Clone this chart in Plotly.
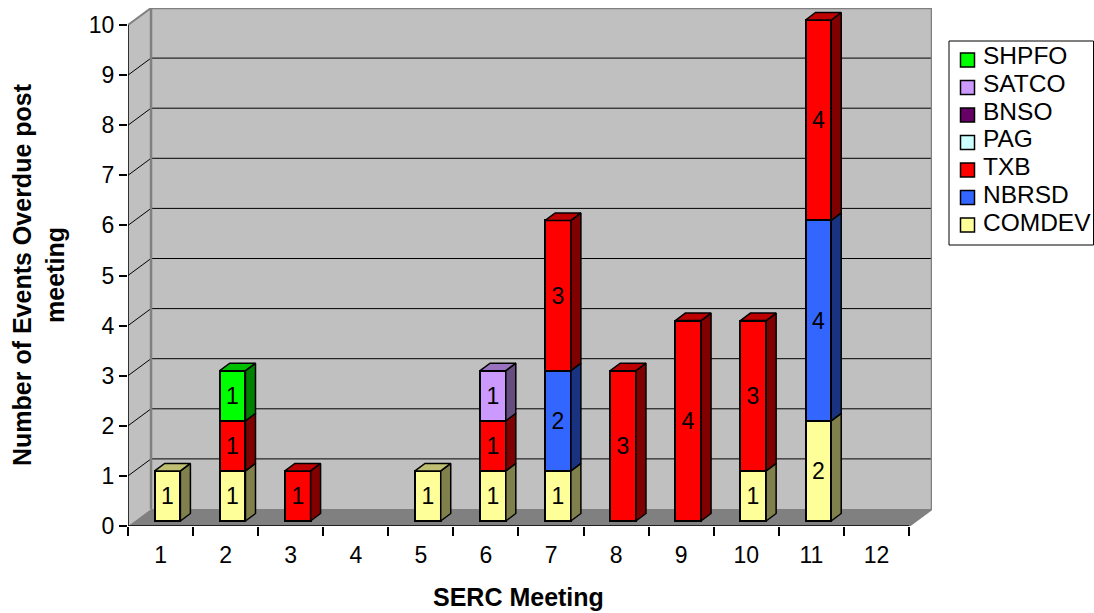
import plotly.graph_objects as go

categories = list(range(1, 13))
COMDEV = [1, 1, 0, 0, 1, 1, 1, 0, 0, 1, 2, 0]
NBRSD = [0, 0, 0, 0, 0, 0, 2, 0, 0, 0, 4, 0]
TXB = [0, 1, 1, 0, 0, 1, 3, 3, 4, 3, 4, 0]
PAG = [0] * 12
BNSO = [0] * 12
SATCO = [0, 0, 0, 0, 0, 1, 0, 0, 0, 0, 0, 0]
SHPFO = [0, 1, 0, 0, 0, 0, 0, 0, 0, 0, 0, 0]
series_names = ["COMDEV", "NBRSD", "TXB", "PAG", "BNSO", "SATCO", "SHPFO"]
series_values = [COMDEV, NBRSD, TXB, PAG, BNSO, SATCO, SHPFO]
front = ["#FFFF99", "#3366FF", "#FF0000", "#CCFFFF", "#660066", "#CC99FF", "#00FF00"]
side = ["#80804D", "#1A3380", "#800000", "#668080", "#330033", "#664D80", "#008000"]
top = ["#BFBF73", "#264DBF", "#BF0000", "#99BFBF", "#4D004D", "#9973BF", "#00BF00"]

WALL_DX = 23 / 65
WALL_DY = 17 / 50.1
SHIFT_X = 7 / 65
SHIFT_Y = 0.1
BAR_W = 0.395
BAR_DX = 10 / 65
BAR_DY = 0.15
X0, X1 = 0.5, 12.5
Y_MAX = 10

L, R, T, B = 128, 932, 8, 526
W, H = 1094, 613

fig = go.Figure()
shapes = []
annotations = []


def poly(pts, fill, line=None, width=0):
    path = "M" + "L".join(f"{x},{y}" for x, y in pts) + "Z"
    shapes.append(dict(type="path", path=path, xref="x", yref="y", fillcolor=fill, layer="below",
                       line=dict(color=line or fill, width=width)))


def seg(a, b, color="#000000", width=1):
    shapes.append(dict(type="line", x0=a[0], y0=a[1], x1=b[0], y1=b[1], xref="x", yref="y",
                       layer="below", line=dict(color=color, width=width)))


def px(x):
    return (x - L) / (R - L)


def py(y):
    return 1 - (y - T) / (B - T)


# walls and floor
poly([(X0, 0), (X0 + WALL_DX, WALL_DY), (X0 + WALL_DX, Y_MAX + WALL_DY), (X0, Y_MAX)], "#C0C0C0")
poly([(X0 + WALL_DX, WALL_DY), (X1 + WALL_DX, WALL_DY), (X1 + WALL_DX, Y_MAX + WALL_DY),
      (X0 + WALL_DX, Y_MAX + WALL_DY)], "#C0C0C0")
poly([(X0, 0), (X1, 0), (X1 + WALL_DX, WALL_DY), (X0 + WALL_DX, WALL_DY)], "#808080")
for v in range(1, Y_MAX):
    seg((X0, v), (X0 + WALL_DX, v + WALL_DY))
    seg((X0 + WALL_DX, v + WALL_DY), (X1 + WALL_DX, v + WALL_DY))
seg((X0, Y_MAX), (X0 + WALL_DX, Y_MAX + WALL_DY), "#808080", 2)
seg((X0 + WALL_DX, Y_MAX + WALL_DY), (X1 + WALL_DX, Y_MAX + WALL_DY), "#808080", 2.5)
seg((X0 + WALL_DX, WALL_DY), (X0 + WALL_DX, Y_MAX + WALL_DY), "#808080", 2.5)
seg((X1 + WALL_DX, WALL_DY), (X1 + WALL_DX, Y_MAX + WALL_DY), "#808080", 2.5)
seg((X1, 0), (X1 + WALL_DX, WALL_DY), "#808080", 2)
seg((X0, 0), (X1, 0), "#000000", 1.5)
seg((X0, 0), (X0, Y_MAX), "#000000", 1.5)

# stacked bars with explicit bases
totals = [sum(s[i] for s in series_values) for i in range(12)]
cum = [SHIFT_Y] * 12
bar_x = [c + SHIFT_X for c in categories]
bar_traces, faces = [], []
for name, vals, f, sd, tp in zip(series_names, series_values, front, side, top):
    base = list(cum)
    bar_traces.append(go.Bar(
        name=name, x=bar_x, y=[v if v else None for v in vals], base=base, width=BAR_W,
        marker=dict(color=f, line=dict(color="black", width=2)), showlegend=False,
        text=[str(v) if v else "" for v in vals], textposition="inside", insidetextanchor="middle",
        textangle=0, constraintext="none", textfont=dict(size=23, color="black", family="Liberation Sans"),
        hoverinfo="name+y"))
    sx, sy, tx, ty = [], [], [], []
    for i, v in enumerate(vals):
        if not v:
            continue
        xr = bar_x[i] + BAR_W / 2
        xl = bar_x[i] - BAR_W / 2
        b0, b1 = base[i], base[i] + v
        sx += [xr, xr + BAR_DX, xr + BAR_DX, xr, xr, None]
        sy += [b0, b0 + BAR_DY, b1 + BAR_DY, b1, b0, None]
        if abs(b1 - SHIFT_Y - totals[i]) < 1e-9:
            tx += [xl, xl + BAR_DX, xr + BAR_DX, xr, xl, None]
            ty += [b1, b1 + BAR_DY, b1 + BAR_DY, b1, b1, None]
        cum[i] += v
    line = dict(color="black", width=1.5)
    if sx:
        faces.append(go.Scatter(x=sx, y=sy, mode="lines", fill="toself", fillcolor=sd, line=line,
                                showlegend=False, hoverinfo="skip"))
    if tx:
        faces.append(go.Scatter(x=tx, y=ty, mode="lines", fill="toself", fillcolor=tp, line=line,
                                showlegend=False, hoverinfo="skip"))
for t in bar_traces + faces:
    fig.add_trace(t)

AX_FONT = dict(family="Liberation Sans", size=23, color="black")
TITLE_FONT = dict(family="Liberation Sans", size=25, color="black")
LEG_FONT = dict(family="Liberation Sans", size=24.5, color="black")

# legend box and entries
shapes.append(dict(type="rect", xref="paper", yref="paper", x0=px(949), x1=px(1093.5), y0=py(245), y1=py(41),
                   fillcolor="white", line=dict(color="black", width=1)))
for i, (name, f) in enumerate(reversed(list(zip(series_names, front)))):
    cy = 60 + 27.5 * i
    shapes.append(dict(type="rect", xref="paper", yref="paper", x0=px(960.5), x1=px(974.5),
                       y0=py(cy + 7), y1=py(cy - 7), fillcolor=f, line=dict(color="black", width=1.5)))
    annotations.append(dict(text=name, xref="paper", yref="paper", x=px(981), y=py(55.5 + 27.8 * i),
                            showarrow=False, xanchor="left", yanchor="middle", font=LEG_FONT))

annotations += [
    dict(text="<b>SERC Meeting</b>", xref="paper", yref="paper", x=px(518), y=py(597),
         showarrow=False, xanchor="center", yanchor="middle", font=TITLE_FONT),
    dict(text="<b>Number of Events Overdue post<br>meeting</b>", xref="paper", yref="paper",
         x=px(38), y=py(275), showarrow=False, textangle=-90,
         xanchor="center", yanchor="middle", font=TITLE_FONT),
]

fig.update_layout(
    width=W, height=H, autosize=False, barmode="overlay", bargap=0, showlegend=False,
    margin=dict(l=L, r=W - R, t=T, b=H - B), paper_bgcolor="white", plot_bgcolor="white",
    shapes=shapes, font=AX_FONT, annotations=annotations,
    xaxis=dict(range=[X0, X1 + WALL_DX], tickmode="array", tickvals=categories, ticks="", ticklen=0,
               ticklabelstandoff=13, showgrid=False, zeroline=False, showline=False, tickfont=AX_FONT,
               minor=dict(tick0=0.5, dtick=1, ticks="outside", ticklen=9, tickcolor="black", tickwidth=1.5, showgrid=False)),
    yaxis=dict(range=[0, Y_MAX + WALL_DY], tickmode="array", tickvals=list(range(0, 11)), ticks="outside",
               ticklen=8, tickwidth=1.5, tickcolor="black", showgrid=False, zeroline=False, showline=False,
               tickfont=AX_FONT),
)
fig.write_html("out.html", config={"displayModeBar": False},
               post_script="document.body.style.margin='0';document.body.style.overflow='hidden';")
